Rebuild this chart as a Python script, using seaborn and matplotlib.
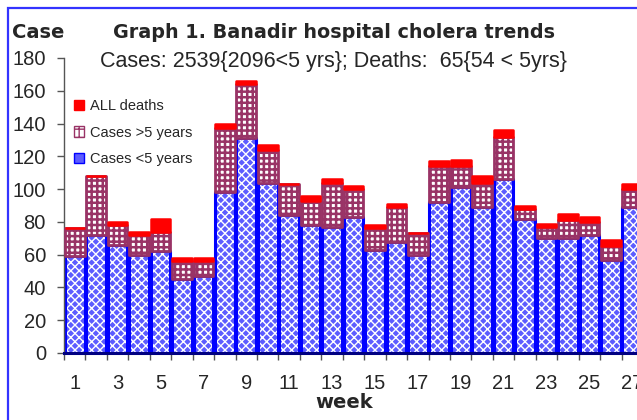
import numpy as np
import matplotlib
matplotlib.use("Agg")
import matplotlib.pyplot as plt
import matplotlib.patches as mpatches
import seaborn as sns
import pandas as pd

# weekly counts
weeks = list(range(1, 28))
cases_under5 = [59, 72, 66, 60, 62, 45, 47, 98, 131, 104, 84, 78, 77, 83, 63,
                68, 60, 92, 101, 89, 106, 82, 70, 70, 72, 57, 89]
cases_over5 = [17, 36, 12, 12, 12, 11, 9, 39, 33, 20, 19, 15, 27, 17, 13,
               21, 13, 22, 13, 15, 26, 6, 7, 11, 8, 8, 11]
all_deaths = [0, 0, 2, 2, 8, 2, 2, 3, 2, 3, 0, 3, 2, 2, 2,
              2, 0, 3, 4, 4, 4, 2, 2, 4, 3, 4, 3]
y_ticks = list(range(0, 181, 20))

df = pd.DataFrame({"week": weeks, "under5": cases_under5,
                   "over5": cases_over5, "deaths": all_deaths})

sns.set_style("white")
plt.rcParams['font.family'] = ['Liberation Sans', 'DejaVu Sans']

BLUE = "#0000ff"
BLUE_FILL = "#5c5cff"
PLUM = "#993366"
RED = "#ff0000"
W = 0.92

fig = plt.figure(figsize=(6.37, 4.20), dpi=100)
ax = fig.add_axes([64 / 637, 67 / 420, 579 / 637, 295 / 420])

# cases < 5 years: blue fill with white diagonal lattice, then solid blue outline
plt.rcParams['hatch.linewidth'] = 1.0
sns.barplot(data=df, x="week", y="under5", ax=ax, color=BLUE_FILL, saturation=1,
            width=W, edgecolor="white", linewidth=0, hatch="xxxx", zorder=2)
pos = np.arange(len(df))
ax.bar(pos, df["under5"], width=W, fill=False, edgecolor=BLUE, linewidth=2.2,
       joinstyle="round", zorder=2.5)

# cases > 5 years
plt.rcParams['hatch.linewidth'] = 1.8
ax.bar(pos, df["over5"], bottom=df["under5"], width=W, color="white",
       edgecolor=PLUM, linewidth=2.0, hatch="+++", joinstyle="round", zorder=3)

# deaths on top
ax.bar(pos, df["deaths"], bottom=df["under5"] + df["over5"], width=W,
       color=RED, edgecolor=RED, linewidth=1.8, joinstyle="round", zorder=4)

ax.set_xlim(-0.5, len(df) - 0.5)
ax.set_ylim(0, 180)
ax.set_yticks(y_ticks)
ax.set_yticklabels([str(t) for t in y_ticks], fontsize=14.5)
ax.set_xticks(pos[::2])
ax.set_xticklabels([str(w) for w in weeks[::2]], fontsize=14.5)
ax.set_xticks(np.arange(len(df) + 1) - 0.5, minor=True)
ax.tick_params(axis="x", which="major", length=0, pad=15)
ax.tick_params(axis="x", which="minor", length=5, width=1, color="#555555",
               direction="out", bottom=True)
ax.tick_params(axis="y", length=5, width=1, color="#555555", direction="out",
               pad=8, left=True)

ax.set_xlabel("")
ax.set_ylabel("")

for s in ["top", "right"]:
    ax.spines[s].set_visible(False)
ax.spines["left"].set_color("#555555")
ax.spines["left"].set_linewidth(1)
ax.spines["bottom"].set_color("#000080")
ax.spines["bottom"].set_linewidth(2.2)
ax.spines["bottom"].set_zorder(5)

plt.rcParams['hatch.linewidth'] = 1.0
handles = [
    mpatches.Patch(facecolor=RED, edgecolor=RED, label="ALL deaths"),
    mpatches.Patch(facecolor="white", edgecolor=PLUM, hatch="++", label="Cases >5 years"),
    mpatches.Patch(facecolor=BLUE_FILL, edgecolor=BLUE, label="Cases <5 years"),
]
ax.legend(handles=handles, loc="upper left", bbox_to_anchor=(0.0, 0.895),
          frameon=False, fontsize=10.5, handlelength=0.7, handleheight=0.7,
          handletextpad=0.4, labelspacing=0.85, borderaxespad=0.3)

bold_fam = ['DejaVu Sans']
fig.text(12 / 637, 1 - 32 / 420, "Case", fontsize=14, fontweight="bold",
         family=bold_fam, ha="left", va="center")
fig.text(334 / 637, 1 - 33 / 420, "Graph 1. Banadir hospital cholera trends",
         fontsize=13.8, fontweight="bold", family=bold_fam, ha="center", va="center")
fig.text(333 / 637, 1 - 62 / 420,
         "Cases: 2539{2096<5 yrs}; Deaths:  65{54 < 5yrs}",
         fontsize=15.5, ha="center", va="center")
fig.text(344 / 637, 1 - 403 / 420, "week", fontsize=14, fontweight="bold",
         family=bold_fam, ha="center", va="center")

# blue chart-area frame (cut off at right and bottom)
fig.patches.append(mpatches.Rectangle((8 / 637, -0.05), 1.2, 1 - 8 / 420 + 0.05,
                                      transform=fig.transFigure, fill=False,
                                      edgecolor="#3333ff", linewidth=1.6))

fig.savefig("out.png", dpi=100)
